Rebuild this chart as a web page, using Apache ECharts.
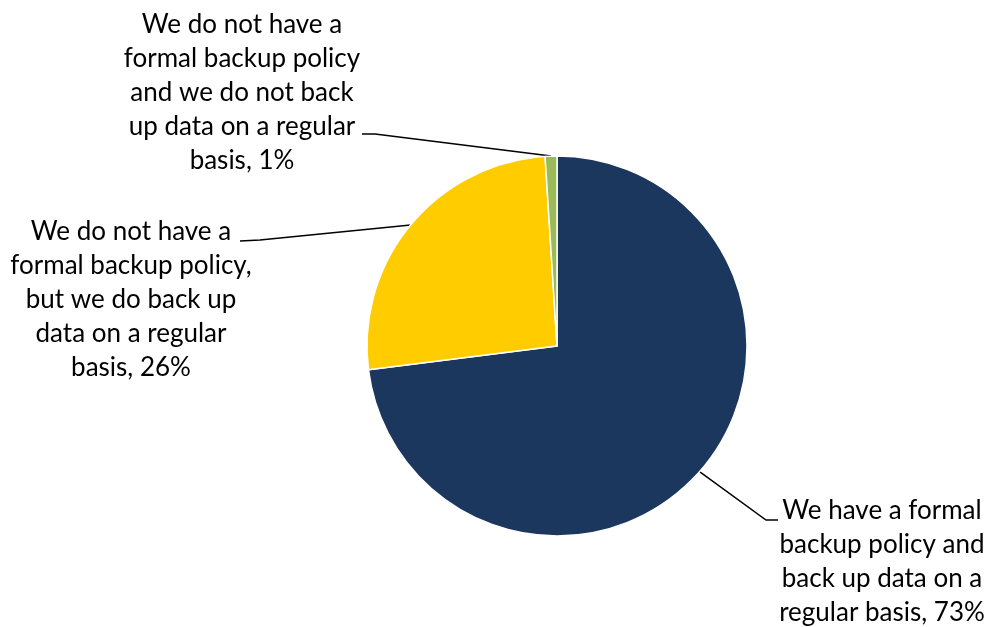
<!DOCTYPE html>
<html>
<head>
<meta charset="utf-8">
<script src="https://cdn.jsdelivr.net/npm/echarts@6/dist/echarts.min.js"></script>
<style>
  html, body { margin: 0; padding: 0; background: #fff; }
  #chart { width: 987px; height: 627px; }
</style>
</head>
<body>
<div id="chart"></div>
<script>
// slice names, clockwise from 12 o'clock
const categories = [
  'We have a formal\nbackup policy and\nback up data on a\nregular basis',
  'We do not have a\nformal backup policy,\nbut we do back up\ndata on a regular\nbasis',
  'We do not have a\nformal backup policy\nand we do not back\nup data on a regular\nbasis'
];
const shares = [73, 26, 1];
const sliceColors = ['#1B375E', '#FFCC00', '#9BBB59'];

// where each label sits (text centre) and the elbow of its leader line
const labelSpots = [
  { x: 882, y: 562, elbow: [766, 520], end: [778, 520] },
  { x: 131, y: 300, elbow: [260, 240], end: [240, 241] },
  { x: 242, y: 93, elbow: [375, 134], end: [362, 134] }
];

const chart = echarts.init(document.getElementById('chart'));

const option = {
  animation: false,
  color: sliceColors,
  series: [
    {
      type: 'pie',
      center: [557, 346],
      radius: 190,
      startAngle: 90,
      clockwise: true,
      itemStyle: { borderColor: '#fff', borderWidth: 1.5 },
      label: {
        show: true,
        formatter: '{b}, {c}%',
        fontFamily: 'Lato',
        fontSize: 26,
        lineHeight: 34,
        color: '#000',
        align: 'center'
      },
      labelLine: {
        show: true,
        length: 20,
        length2: 10,
        lineStyle: { color: '#000', width: 1.5 }
      },
      labelLayout: function (params) {
        const spot = labelSpots[params.dataIndex];
        const start = params.labelLinePoints ? params.labelLinePoints[0] : spot.elbow;
        return {
          x: spot.x,
          y: spot.y,
          align: 'center',
          verticalAlign: 'middle',
          labelLinePoints: [start, spot.elbow, spot.end]
        };
      },
      data: categories.map((name, i) => ({ name: name, value: shares[i] }))
    }
  ]
};

chart.setOption(option);
</script>
</body>
</html>
